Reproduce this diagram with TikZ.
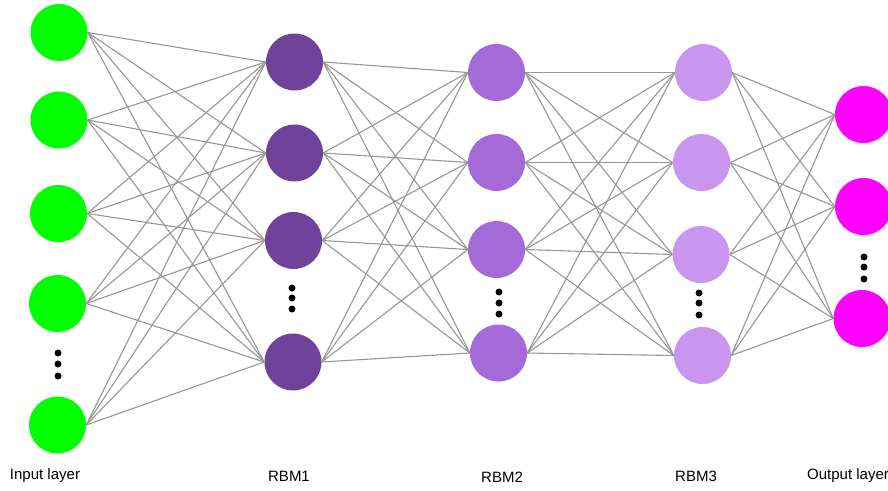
\documentclass[tikz,border=0pt]{standalone}
\usepackage{fontspec}
\setmainfont{Liberation Sans}
\definecolor{cin}{RGB}{0,255,0}
\definecolor{cr1}{RGB}{111,67,153}
\definecolor{cr2}{RGB}{164,106,216}
\definecolor{cr3}{RGB}{200,150,238}
\definecolor{cout}{RGB}{255,0,255}
\definecolor{edgegray}{RGB}{150,150,150}
\tikzset{
  neuron/.style={circle,inner sep=0pt,minimum size=57pt,draw=none},
  conn/.style={draw=edgegray,line width=1.1pt},
  vdot/.style={circle,fill=black,inner sep=0pt,minimum size=7pt},
  lbl/.style={font=\fontsize{15pt}{18pt}\selectfont,inner sep=0pt}
}
\begin{document}
\begin{tikzpicture}[x=1pt,y=-1pt]
\useasboundingbox (0,0) rectangle (888,490);
% input layer
\foreach \n/\x/\y in {1/59/32.5,2/59/120,3/58.5/213.5,4/57.5/303.5,5/57.5/425}
  \node[neuron,fill=cin] (i\n) at (\x,\y) {};
% RBM1
\foreach \n/\x/\y in {1/294.5/62,2/294.5/153,3/293.5/240.5,4/293/362}
  \node[neuron,fill=cr1] (a\n) at (\x,\y) {};
% RBM2
\foreach \n/\x/\y in {1/496.5/72.5,2/496.5/162.5,3/496.5/249.5,4/498.5/353}
  \node[neuron,fill=cr2] (b\n) at (\x,\y) {};
% RBM3
\foreach \n/\x/\y in {1/703.5/72.5,2/701.5/162.5,3/701/254.5,4/702.5/355.5}
  \node[neuron,fill=cr3] (c\n) at (\x,\y) {};
% output
\foreach \n/\x/\y in {1/863.5/114.5,2/863.5/206.5,3/862/318.5}
  \node[neuron,fill=cout] (o\n) at (\x,\y) {};
% connections
\foreach \s in {1,...,5}
  \foreach \t in {1,...,4}
    \draw[conn] (i\s.east) -- (a\t.west);
\foreach \s in {1,...,4}
  \foreach \t in {1,...,4}
    \draw[conn] (a\s.east) -- (b\t.west);
\foreach \s in {1,...,4}
  \foreach \t in {1,...,4}
    \draw[conn] (b\s.east) -- (c\t.west);
\foreach \s in {1,...,4}
  \foreach \t in {1,...,3}
    \draw[conn] (c\s.east) -- (o\t.west);
% ellipsis dots
\foreach \k/\x/\ya/\yb/\yc in {i/58/353/364/376, a/292/288/298/309, b/499/292/303/314, c/699/293/303/315, o/864/257/267/279}{
  \node[vdot] (d\k1) at (\x,\ya) {};
  \node[vdot] (d\k2) at (\x,\yb) {};
  \node[vdot] (d\k3) at (\x,\yc) {};
}
% labels
\node[lbl] (lin) at (45,476) {Input layer};
\node[lbl] (l1) at (289,476) {RBM1};
\node[lbl] (l2) at (502,477) {RBM2};
\node[lbl] (l3) at (696,476) {RBM3};
\node[lbl,anchor=west] (lout) at (807,476) {Output layer};
\end{tikzpicture}
\end{document}
